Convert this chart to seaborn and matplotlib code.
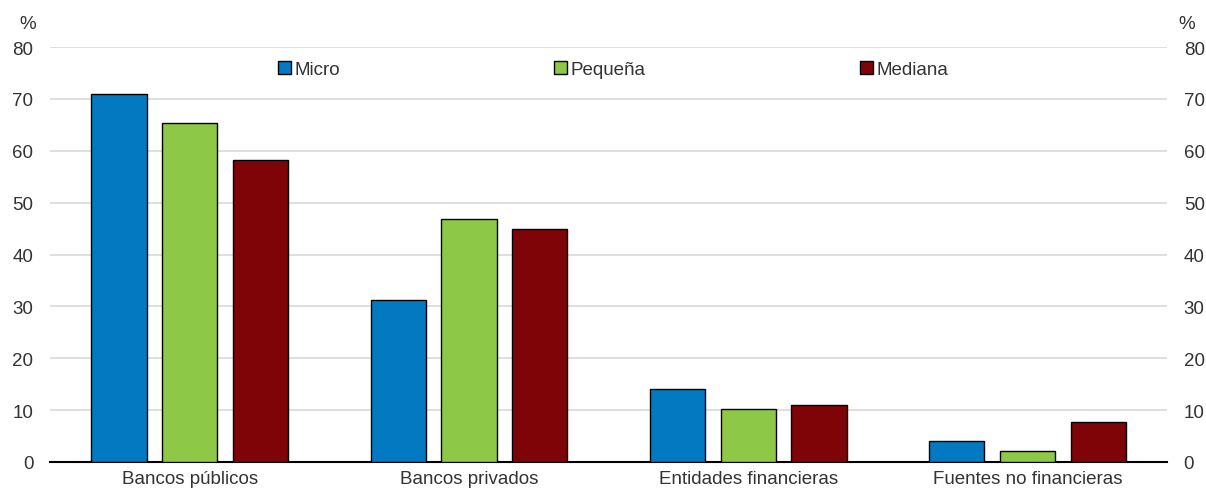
import matplotlib
matplotlib.use("Agg")
import matplotlib.pyplot as plt
import seaborn as sns
import pandas as pd
from matplotlib import font_manager

categories = ["Bancos públicos", "Bancos privados", "Entidades financieras", "Fuentes no financieras"]
series_names = ["Micro", "Pequeña", "Mediana"]
micro = [71.0, 31.2, 14.1, 4.0]
pequena = [65.3, 46.8, 10.2, 2.1]
mediana = [58.2, 44.9, 11.0, 7.7]
colors = ["#0279C0", "#8DC846", "#7F0408"]
yticks = [0, 10, 20, 30, 40, 50, 60, 70, 80]

rows = []
for name, vals in zip(series_names, [micro, pequena, mediana]):
    for c, v in zip(categories, vals):
        rows.append({"cat": c, "serie": name, "val": v})
df = pd.DataFrame(rows)

sns.set_theme(style="white")
avail = {f.name for f in font_manager.fontManager.ttflist}
fam = "Liberation Sans Narrow" if "Liberation Sans Narrow" in avail else "Liberation Sans"
plt.rcParams["font.family"] = [fam, "DejaVu Sans"]
fs = 13.5
tc = "#333333"

fig = plt.figure(figsize=(12.06, 4.89), dpi=100)
ax = fig.add_axes([0.0415, 0.0532, 0.9262, 0.8486])

sns.barplot(data=df, x="cat", y="val", hue="serie", hue_order=series_names,
            order=categories, palette=colors, saturation=1, width=0.76, gap=0.22,
            edgecolor="black", linewidth=1.0, ax=ax, errorbar=None, zorder=3)

ax.set_xlim(-0.5, 3.5)
ax.set_ylim(0, 80)
ax.set_yticks(yticks)
ax.yaxis.grid(True, color="#d9d9d9", linewidth=1.2, zorder=0)
ax.set_axisbelow(True)
for s in ["left", "right", "top"]:
    ax.spines[s].set_visible(False)
ax.spines["bottom"].set_color("black")
ax.spines["bottom"].set_linewidth(1.5)
ax.set_xlabel("")
ax.set_ylabel("")
ax.tick_params(axis="y", length=0, pad=12, labelsize=fs, labelcolor=tc)
ax.set_xticks(range(len(categories)))
ax.set_xticklabels(categories, fontsize=fs, color=tc)
ax.tick_params(axis="x", which="major", length=0, pad=6)
ax.set_xticks([-0.5, 0.5, 1.5, 2.5, 3.5], minor=True)
ax.tick_params(axis="x", which="minor", direction="in", length=6, width=1.5, color="black")

ax2 = ax.twinx()
ax2.set_ylim(0, 80)
ax2.set_yticks(yticks)
for s in ["left", "right", "top", "bottom"]:
    ax2.spines[s].set_visible(False)
ax2.tick_params(axis="y", length=0, pad=12, labelsize=fs, labelcolor=tc)

fig.text(0.0232, 0.94, "%", fontsize=fs, color=tc, ha="center")
fig.text(0.984, 0.94, "%", fontsize=fs, color=tc, ha="center")

handles, labels = ax.get_legend_handles_labels()
leg = ax.legend(handles, labels, ncol=3, loc="center", bbox_to_anchor=(0.504, 0.945),
                frameon=False, fontsize=fs, handlelength=0.7, handleheight=0.7,
                handletextpad=0.2, columnspacing=11.4)
for t in leg.get_texts():
    t.set_color(tc)

fig.savefig("out.png", dpi=100)
